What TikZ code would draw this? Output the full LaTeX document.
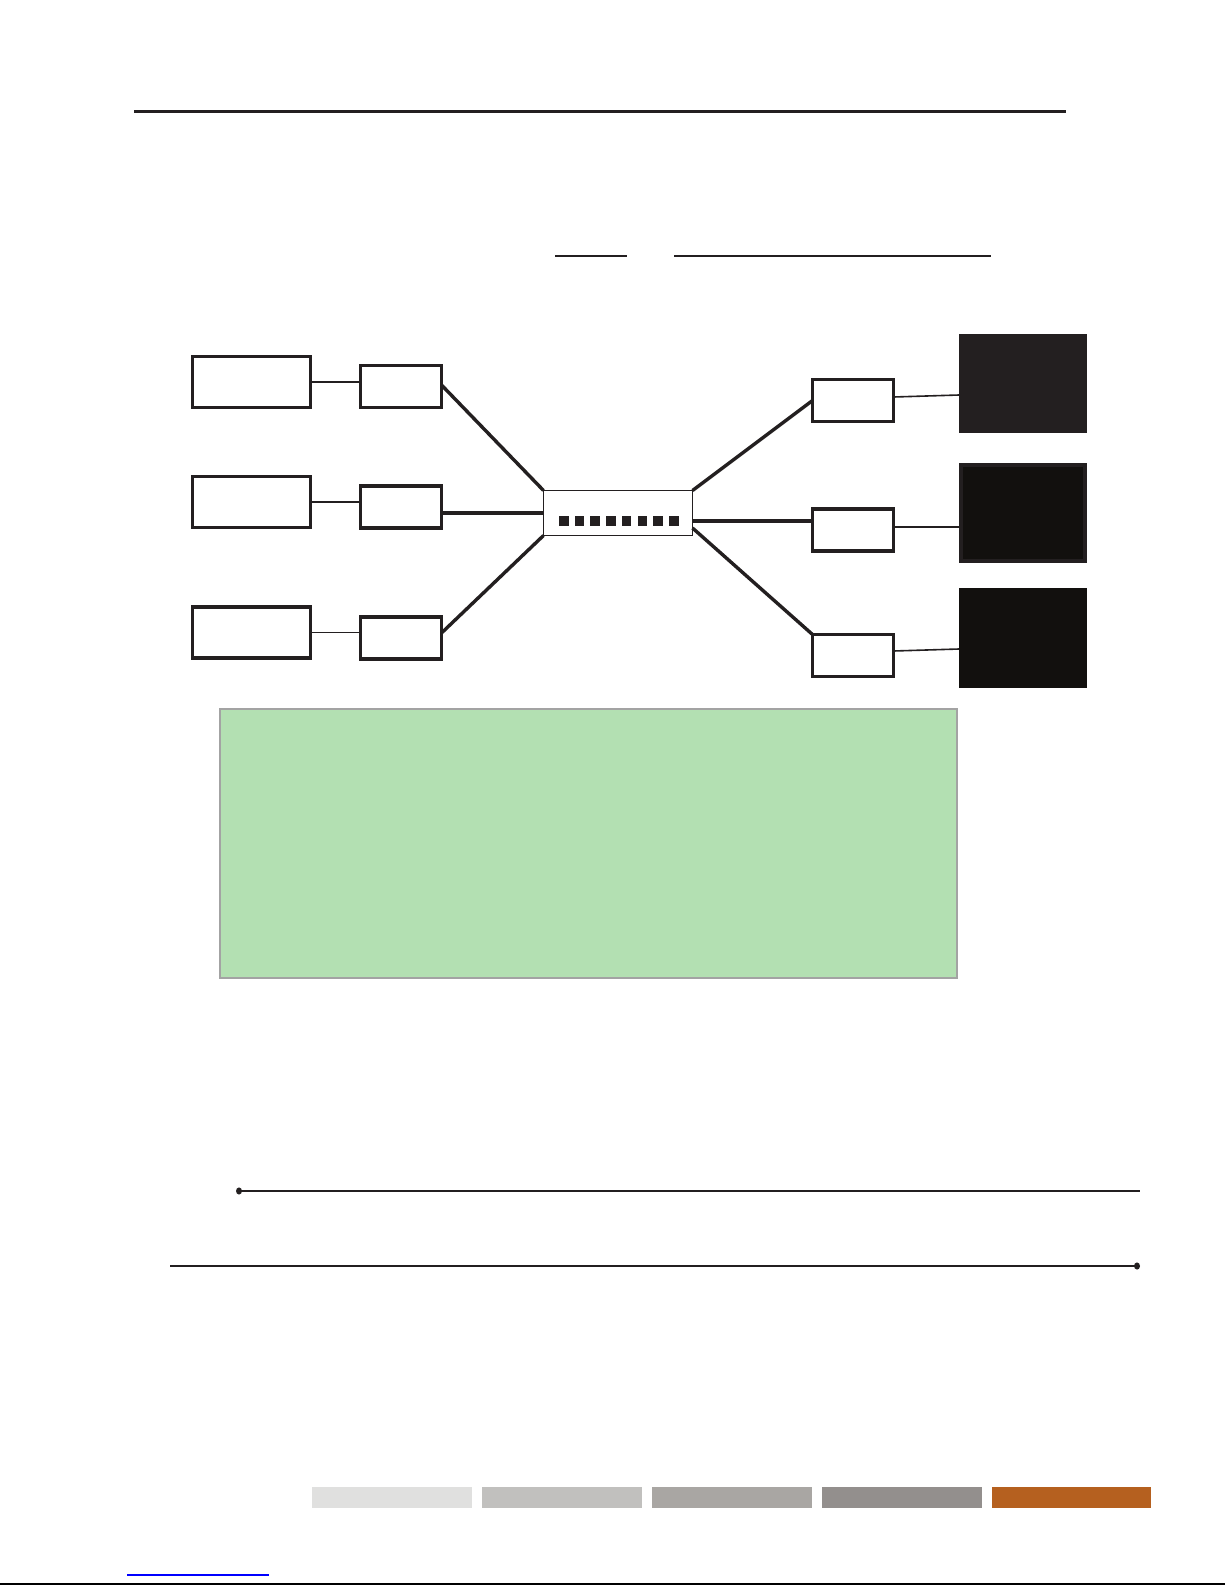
\documentclass[tikz,border=0pt]{standalone}
\usetikzlibrary{calc}
\definecolor{ink}{HTML}{231F20}
\definecolor{deep}{HTML}{12100E}
\definecolor{mint}{HTML}{B3E0B2}
\definecolor{mintedge}{HTML}{A3A3A3}
\definecolor{barA}{HTML}{E0E0DF}
\definecolor{barB}{HTML}{C1C0BE}
\definecolor{barC}{HTML}{A9A6A3}
\definecolor{barD}{HTML}{938F8D}
\definecolor{barE}{HTML}{B5601F}
\tikzset{
  bigbox/.style={draw=ink, line width=3.3pt, fill=white, inner sep=0pt, outer sep=0pt, minimum width=118pt, minimum height=51pt},
  smallbox/.style={draw=ink, line width=3.3pt, fill=white, inner sep=0pt, outer sep=0pt, minimum width=81pt, minimum height=42pt},
  hubbox/.style={draw=ink, line width=1.8pt, fill=white, inner sep=0pt, outer sep=0pt, minimum width=149pt, minimum height=45pt},
  port/.style={fill=ink, draw=none, inner sep=0pt, minimum width=9.6pt, minimum height=10pt},
  termbox/.style={inner sep=0pt, outer sep=0pt},
  thinlink/.style={draw=ink, line width=1.6pt},
  thicklink/.style={draw=ink, line width=3.4pt},
  rule/.style={draw=ink, line width=2.2pt},
  bar/.style={draw=none, inner sep=0pt, minimum width=160pt, minimum height=21pt},
}
\begin{document}
\begin{tikzpicture}[x=1pt, y=-1pt]
\useasboundingbox (0,0) rectangle (1225,1585);
\fill[white] (0,0) rectangle (1225,1585);

% header rules
\draw[draw=ink, line width=3pt] (134,111.5) -- (1066,111.5);
\draw[rule] (555,256) -- (627,256);
\draw[rule] (674,256) -- (991,256);

% left column
\node[bigbox] (b1) at (251.5,382) {};
\node[bigbox] (b2) at (251.5,502) {};
\node[bigbox] (b3) at (251.5,632.5) {};
\node[smallbox] (s1) at (401,386.5) {};
\node[smallbox] (s2) at (401,507) {};
\node[smallbox] (s3) at (401,638) {};

% hub
\node[hubbox] (hub) at (618,513) {};
\foreach \k in {0,...,7} {
  \node[port] (q\k) at ({563.8+\k*15.7},521) {};
}

% right column
\node[smallbox] (r1) at (853,400.5) {};
\node[smallbox] (r2) at (853,530) {};
\node[smallbox] (r3) at (853,655.5) {};
\node[termbox, fill=ink, minimum width=128pt, minimum height=99pt] (k1) at (1023,383.5) {};
\node[termbox, fill=deep, draw=ink, line width=4pt, minimum width=124pt, minimum height=96pt] (k2) at (1023,513) {};
\node[termbox, fill=deep, minimum width=128pt, minimum height=100pt] (k3) at (1023,638) {};

% left connectors
\draw[thinlink] (b1.east) -- (b1.east -| s1.west);
\draw[thinlink] (b2.east) -- (b2.east -| s2.west);
\draw[thinlink] (b3.east) -- (b3.east -| s3.west);
\draw[thicklink] ($(s1.east)+(0,-1.5)$) -- (hub.north west);
\draw[thicklink] (hub.west -| s2.east) -- (hub.west);
\draw[thicklink] ($(s3.east)+(0,-5)$) -- (hub.south west);

% right connectors
\coordinate (h2) at ($(hub.east)+(0,8)$);
\coordinate (h3) at ($(hub.east)+(0,15)$);
\draw[thicklink] (hub.north east) -- (r1.west);
\draw[thicklink] (h2) -- (h2 -| r2.west);
\draw[thicklink] (h3) -- (r3.north west);
\draw[thinlink] ($(r1.east)+(0,-3.5)$) -- ($(k1.west)+(0,11.5)$);
\draw[thinlink] ($(r2.east)+(0,-3)$) -- ($(k2.west)+(-2,14)$);
\draw[thinlink] ($(r3.east)+(0,-4.5)$) -- ($(k3.west)+(0,11)$);

% green panel
\node[draw=mintedge, fill=mint, line width=2pt, inner sep=0pt, minimum width=737pt, minimum height=269pt] (panel) at (588.5,843.5) {};

% lower rules with dots
\coordinate (u1) at (239,1191);
\coordinate (u2) at (1140,1191);
\coordinate (v1) at (170,1266);
\coordinate (v2) at (1137,1266);
\draw[rule] (u1) -- (u2);
\fill[ink] (u1) ellipse (3pt and 3.6pt);
\draw[rule] (v1) -- (v2);
\fill[ink] (v2) ellipse (3pt and 3.6pt);

% footer bars
\node[bar, fill=barA] (f1) at (392,1497) {};
\node[bar, fill=barB] (f2) at (562,1497) {};
\node[bar, fill=barC] (f3) at (732,1497) {};
\node[bar, fill=barD] (f4) at (902,1497) {};
\node[bar, fill=barE, minimum width=159pt] (f5) at (1071.5,1497) {};

% footer lines
\draw[blue, line width=1.2pt] (127,1575) -- (269,1575);
\draw[black, line width=2.4pt] (0,1584) -- (1225,1584);
\end{tikzpicture}
\end{document}
